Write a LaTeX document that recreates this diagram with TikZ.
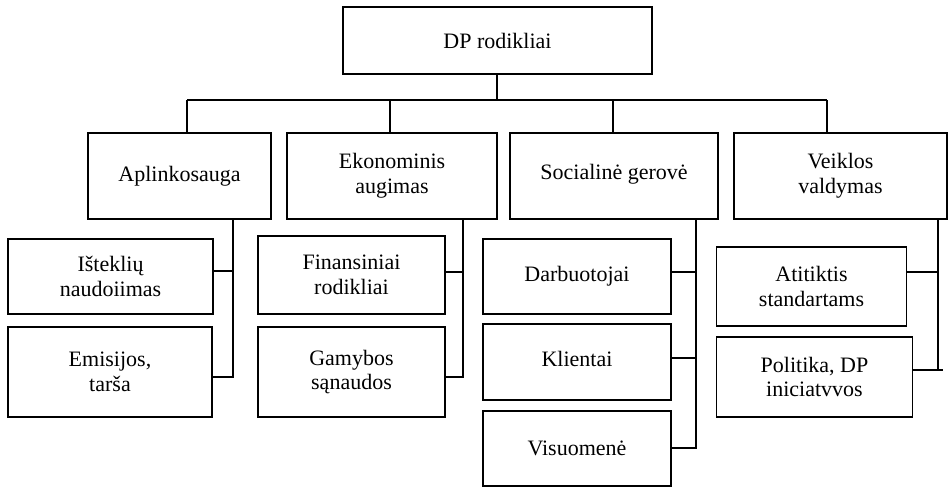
\documentclass[tikz,border=0pt]{standalone}
\usepackage{fontspec}
\setmainfont{Liberation Serif}
\begin{document}
\begin{tikzpicture}[x=0.75pt,y=-0.75pt,
  line width=1.4pt,
  box/.style={draw, line width=1.4pt, align=center, inner sep=0pt, outer sep=0pt,
    font=\fontsize{16.5}{18.5}\selectfont},
  sz/.style 2 args={minimum width=#1*0.75pt, minimum height=#2*0.75pt},
  link/.style={draw, line width=1.4pt}]
\useasboundingbox (0,0) rectangle (949,487);

% root
\node[box, sz={309}{67}] (top) at (497.5,40.5) {DP rodikliai};

% second level
\node[box, sz={183}{86}] (apl) at (179.5,176) {Aplinkosauga};
\node[box, sz={210}{86}] (eko) at (392,176) {Ekonominis\\augimas};
\node[box, sz={208}{86}] (soc) at (614,176) {\raisebox{6pt}{Socialinė gerovė}};
\node[box, sz={213}{86}, line width=1pt] (vei) at (840.5,176) {Veiklos\\valdymas};

% third level
\node[box, sz={205}{75}] (ist) at (110.5,276.5) {Išteklių\\naudoiimas};
\node[box, sz={204}{90}] (emi) at (110,372) {Emisijos,\\tarša};
\node[box, sz={187}{78}] (fin) at (351.5,275) {Finansiniai\\rodikliai};
\node[box, sz={187}{90}] (gam) at (351.5,372) {Gamybos\\sąnaudos};
\node[box, sz={188}{75}] (dar) at (577,276.5) {Darbuotojai};
\node[box, sz={188}{76}] (kli) at (577,362) {\raisebox{5pt}{Klientai}};
\node[box, sz={188}{75}] (vis) at (577,448.5) {Visuomenė};
\node[box, sz={190}{79}] (ati) at (811.5,286.5) {Atitiktis\\standartams};
\node[box, sz={196}{80}] (pol) at (814.5,377) {Politika, DP\\iniciatvvos};

% bus below the root
\coordinate (b0) at (497,100);
\coordinate (b1) at (187,100);
\coordinate (b2) at (390,100);
\coordinate (b3) at (613,100);
\coordinate (b4) at (827,100);
\draw[link] (b0 |- top.south) -- (b0);
\draw[link] (b1) -- (b4);
\draw[link] (b1) -- (b1 |- apl.north);
\draw[link] (b2) -- (b2 |- eko.north);
\draw[link] (b3) -- (b3 |- soc.north);
\draw[link] (b4) -- (b4 |- vei.north);

% trunks and branches
\coordinate (ta1) at (233,271);
\coordinate (ta2) at (233,377);
\draw[link] (ta1 |- apl.south) -- (ta2) -- (ta2 -| emi.east);
\draw[link] (ist.east |- ta1) -- (ta1);

\coordinate (te1) at (463,272);
\coordinate (te2) at (463,377);
\draw[link] (te1 |- eko.south) -- (te2) -- (te2 -| gam.east);
\draw[link] (fin.east |- te1) -- (te1);

\coordinate (ts1) at (696,272);
\coordinate (ts2) at (696,358);
\coordinate (ts3) at (696,448);
\draw[link] (ts1 |- soc.south) -- (ts3) -- (ts3 -| vis.east);
\draw[link] (dar.east |- ts1) -- (ts1);
\draw[link] (kli.east |- ts2) -- (ts2);

\coordinate (tv1) at (938,272);
\coordinate (tv2) at (938,370);
\coordinate (tv3) at (943,370);
\draw[link] (tv1 |- vei.south) -- (tv2);
\draw[link] (ati.east |- tv1) -- (tv1);
\draw[link] (pol.east |- tv2) -- (tv3);
\end{tikzpicture}
\end{document}
